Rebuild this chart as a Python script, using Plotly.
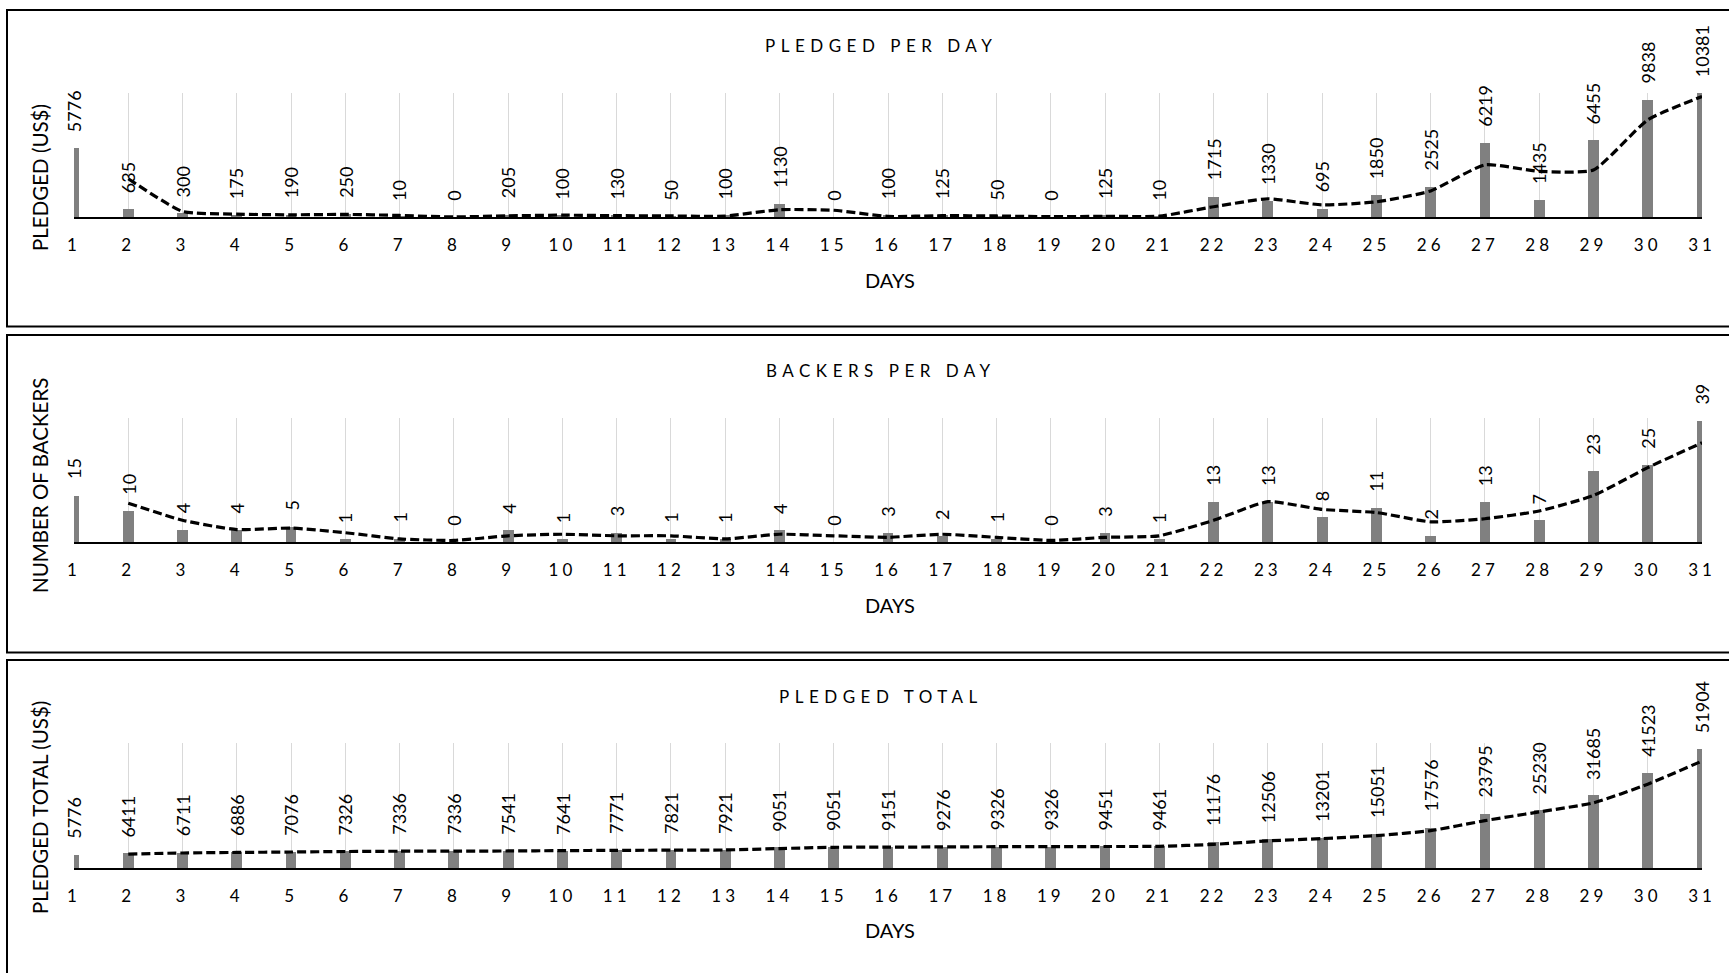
import pandas as pd
import plotly.graph_objects as go

# ---- data -------------------------------------------------------------
days = list(range(1, 32))

pledged_per_day = [5776, 635, 300, 175, 190, 250, 10, 0, 205, 100, 130, 50, 100,
                   1130, 0, 100, 125, 50, 0, 125, 10, 1715, 1330, 695, 1850,
                   2525, 6219, 1435, 6455, 9838, 10381]

backers_per_day = [15, 10, 4, 4, 5, 1, 1, 0, 4, 1, 3, 1, 1, 4, 0, 3, 2, 1, 0, 3,
                   1, 13, 13, 8, 11, 2, 13, 7, 23, 25, 39]

pledged_total = [5776, 6411, 6711, 6886, 7076, 7326, 7336, 7336, 7541, 7641,
                 7771, 7821, 7921, 9051, 9051, 9151, 9276, 9326, 9326, 9451,
                 9461, 11176, 12506, 13201, 15051, 17576, 23795, 25230, 31685,
                 41523, 51904]

panel_titles = ["PLEDGED PER DAY", "BACKERS PER DAY", "PLEDGED TOTAL"]
y_titles = ["PLEDGED (US$)", "NUMBER OF BACKERS", "PLEDGED TOTAL (US$)"]
x_title = "DAYS"
tick_labels = [str(d) for d in days]

# ---- layout geometry (pixels of a 1729 x 973 canvas) -------------------
W, H = 1729, 973
FONT = "Lato, Carlito, Calibri, sans-serif"
BAR = "#808080"

def px_x(p):
    return p / W

def px_y(p):
    return 1 - p / H

x_dom = [px_x(74), px_x(1702)]
panels = [
    dict(top=93, bottom=217, box=(10, 326.5), title_y=45, days_y=280, ytitle_y=178, ymax=10400),
    dict(top=418, bottom=542, box=(335, 652.5), title_y=370, days_y=605, ytitle_y=486, ymax=40),
    dict(top=743, bottom=868, box=(660, 990), title_y=696, days_y=930, ytitle_y=808, ymax=54600),
]
series = [pledged_per_day, backers_per_day, pledged_total]

fig = go.Figure()
annotations = []
shapes = []
layout_axes = {}

for i, (vals, pan) in enumerate(zip(series, panels)):
    n = "" if i == 0 else str(i + 1)
    xa, ya = "x" + n, "y" + n

    # two-period moving average trendline
    trend = pd.Series(vals, index=days).rolling(2).mean()

    fig.add_trace(go.Bar(
        x=days, y=vals, width=0.2, marker=dict(color=BAR, line=dict(width=0)),
        xaxis=xa, yaxis=ya, showlegend=False, hoverinfo="x+y",
    ))
    fig.add_trace(go.Scatter(
        x=days[1:], y=trend.values[1:], mode="lines",
        line=dict(color="black", width=3.2, dash="9px,4px", shape="spline", smoothing=0.5),
        xaxis=xa, yaxis=ya, showlegend=False, hoverinfo="skip",
    ))

    layout_axes["xaxis" + n] = dict(
        domain=x_dom, anchor=ya, range=[1, 31], automargin=False,
        tickmode="array", tickvals=days,
        ticktext=['<span style="letter-spacing:4px">%s</span>' % t for t in tick_labels],
        tickfont=dict(family=FONT, size=17, color="black"),
        ticks="", ticklabelstandoff=12,
        showgrid=True, gridcolor="#d9d9d9", gridwidth=1,
        showline=True, linecolor="black", linewidth=1.5,
        zeroline=False, fixedrange=True,
    )
    layout_axes["yaxis" + n] = dict(
        domain=[px_y(pan["bottom"]), px_y(pan["top"])], anchor=xa, automargin=False,
        range=[0, pan["ymax"]], visible=False, showgrid=False, zeroline=False,
        fixedrange=True,
    )

    # value labels above each bar
    for d, v in zip(days, vals):
        annotations.append(dict(
            x=d, y=v, xref=xa, yref=ya, text=str(v), showarrow=False,
            textangle=-90, xanchor="center", yanchor="bottom", yshift=14,
            font=dict(family=FONT, size=18, color="black"),
        ))

    # panel title, x title, y title
    annotations.append(dict(
        x=px_x(881), y=px_y(pan["title_y"]), xref="paper", yref="paper",
        text='<span style="letter-spacing:5.5px">%s</span>' % panel_titles[i],
        showarrow=False, xanchor="center", yanchor="middle",
        font=dict(family=FONT, size=17, color="black"),
    ))
    annotations.append(dict(
        x=px_x(890), y=px_y(pan["days_y"]), xref="paper", yref="paper",
        text=x_title, showarrow=False, xanchor="center", yanchor="middle",
        font=dict(family=FONT, size=20, color="black"),
    ))
    annotations.append(dict(
        x=px_x(40), y=px_y(pan["ytitle_y"]), xref="paper", yref="paper",
        text=y_titles[i], showarrow=False, textangle=-90,
        xanchor="center", yanchor="middle",
        font=dict(family=FONT, size=20.5, color="black"),
    ))

    # panel frame
    b0, b1 = pan["box"]
    shapes.append(dict(
        type="rect", xref="paper", yref="paper",
        x0=px_x(7), x1=1.02, y0=px_y(b1), y1=px_y(b0),
        line=dict(color="black", width=2), fillcolor="rgba(0,0,0,0)", layer="above",
    ))

fig.update_layout(
    width=W, height=H, margin=dict(l=0, r=0, t=0, b=0, autoexpand=False),
    paper_bgcolor="white", plot_bgcolor="white",
    bargap=0, annotations=annotations, shapes=shapes,
    font=dict(family=FONT, color="black"),
    **layout_axes,
)

fig.write_html("out.html")
